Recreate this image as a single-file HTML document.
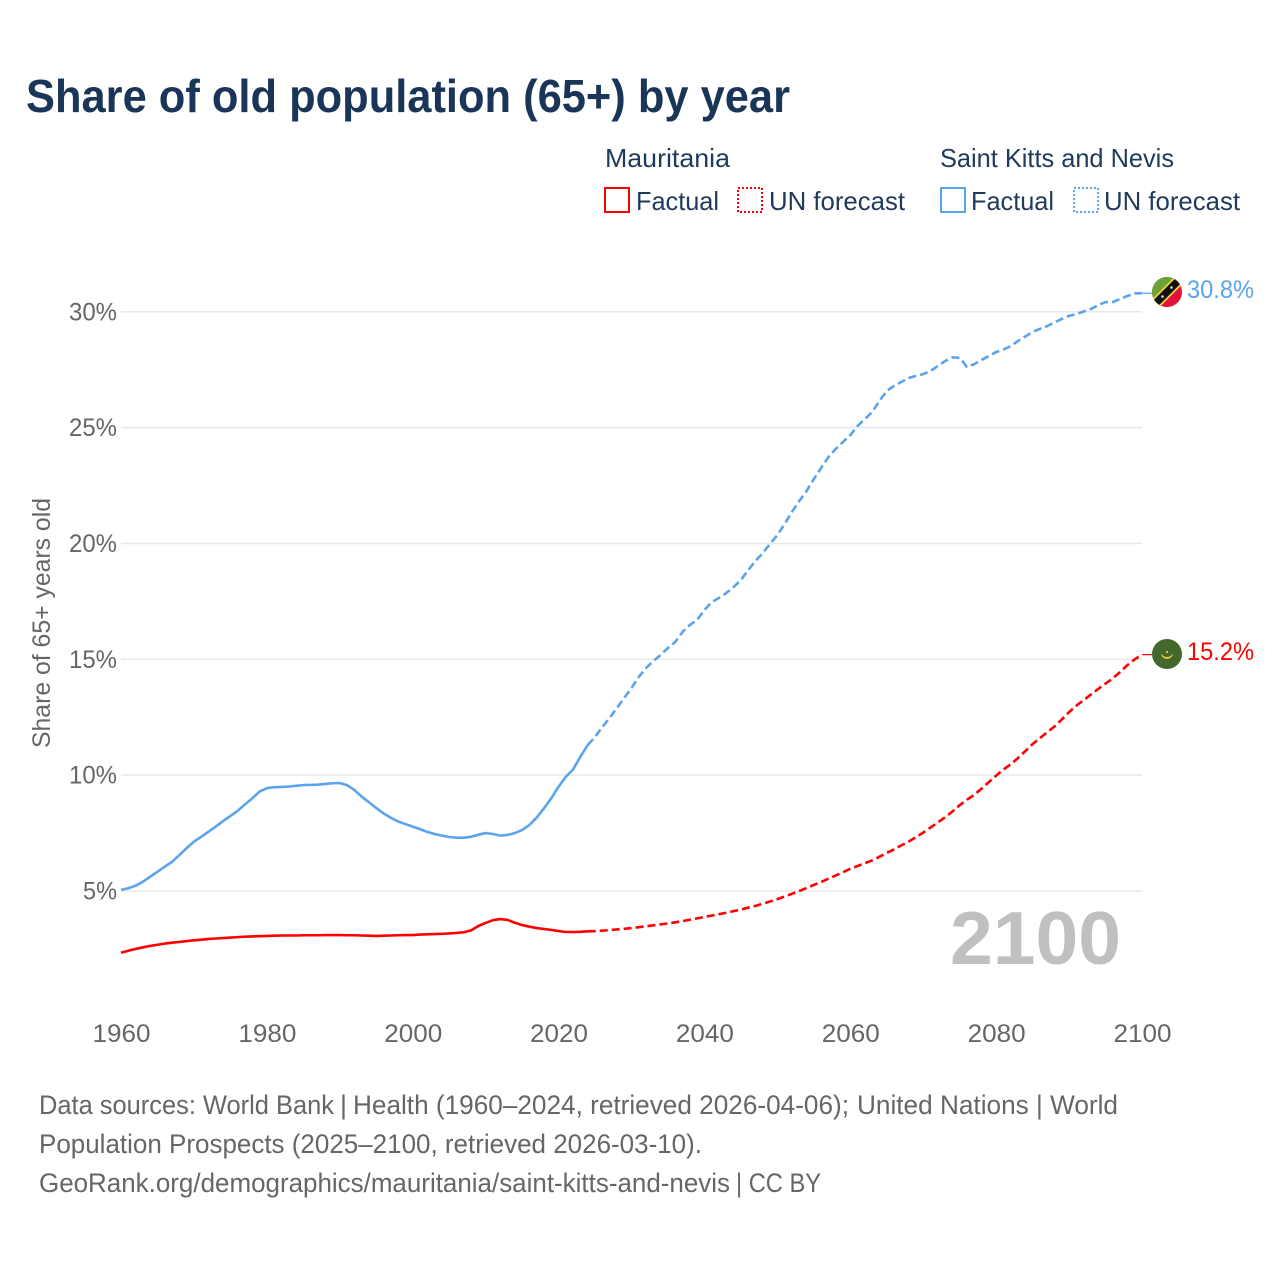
<!DOCTYPE html>
<html lang="en">
<head>
<meta charset="utf-8">
<title>Share of old population (65+) by year</title>
<style>
html,body{margin:0;padding:0;background:#fff}
svg{display:block}
text{font-family:"Liberation Sans",sans-serif}
</style>
</head>
<body>
<svg id="chart" xmlns="http://www.w3.org/2000/svg" width="1280" height="1280" viewBox="0 0 1280 1280">
  <rect x="0" y="0" width="1280" height="1280" fill="#fff"/>
  <text x="26" y="112" font-size="46" font-weight="700" fill="#1a3557" textLength="764" lengthAdjust="spacingAndGlyphs">Share of old population (65+) by year</text>

  <g font-size="26" fill="#1f3a5c">
    <text x="605" y="167" textLength="125" lengthAdjust="spacingAndGlyphs">Mauritania</text>
    <rect x="605" y="188" width="24" height="24" fill="none" stroke="#ff0000" stroke-width="2"/>
    <text x="636" y="210" textLength="83" lengthAdjust="spacingAndGlyphs">Factual</text>
    <rect x="738" y="188" width="24" height="24" fill="none" stroke="#ff0000" stroke-width="2" stroke-dasharray="2 2"/>
    <text x="769" y="210" textLength="136" lengthAdjust="spacingAndGlyphs">UN forecast</text>
    <text x="940" y="167" textLength="234" lengthAdjust="spacingAndGlyphs">Saint Kitts and Nevis</text>
    <rect x="941" y="188" width="24" height="24" fill="none" stroke="#5ba4ec" stroke-width="2"/>
    <text x="971" y="210" textLength="83" lengthAdjust="spacingAndGlyphs">Factual</text>
    <rect x="1074" y="188" width="24" height="24" fill="none" stroke="#5ba4ec" stroke-width="2" stroke-dasharray="2 2"/>
    <text x="1104" y="210" textLength="136" lengthAdjust="spacingAndGlyphs">UN forecast</text>
  </g>

  <g id="grid"></g>
  <g id="yticks"></g>
  <g id="xticks"></g>
  <text transform="translate(50,748) rotate(-90)" font-size="25" fill="#666" textLength="250" lengthAdjust="spacingAndGlyphs">Share of 65+ years old</text>
  <text x="950" y="964" font-size="75" font-weight="700" fill="#c0c0c0" textLength="171" lengthAdjust="spacingAndGlyphs">2100</text>
  <g id="series"></g>

  <g>
    <clipPath id="clip-kn"><circle cx="1167" cy="292" r="15"/></clipPath>
    <g clip-path="url(#clip-kn)">
      <rect x="1150" y="275" width="34" height="34" fill="#e4103c"/>
      <polygon points="1150,275 1184,275 1150,309" fill="#6ca43a"/>
      <line x1="1152" y1="307" x2="1182" y2="277" stroke="#f5d33c" stroke-width="11"/>
      <line x1="1152" y1="307" x2="1182" y2="277" stroke="#111" stroke-width="7.5"/>
      <circle cx="1162.5" cy="296.5" r="1.3" fill="#ddd"/>
      <circle cx="1171.5" cy="287.5" r="1.3" fill="#ddd"/>
    </g>
  </g>
  <g>
    <circle cx="1167" cy="654" r="15" fill="#44682b"/>
    <path d="M1161.5 654.5 A5.8 5.8 0 0 0 1172.5 654.5 A6.6 6.6 0 0 1 1161.5 654.5 Z" fill="#f0cf3c" stroke="#f0cf3c" stroke-width="0.8"/>
    <circle cx="1167" cy="652" r="1.1" fill="#f0cf3c"/>
  </g>
  <text id="label-kn" x="1187" y="298" font-size="25" fill="#5ba4ec" textLength="67" lengthAdjust="spacingAndGlyphs">30.8%</text>
  <text id="label-mr" x="1187" y="660" font-size="25" fill="#ff0000" textLength="67" lengthAdjust="spacingAndGlyphs">15.2%</text>

  <g font-size="27" fill="#666">
    <text x="39" y="1114" textLength="295" lengthAdjust="spacingAndGlyphs">Data sources: World Bank</text>
    <text x="340" y="1114">|</text>
    <text x="353" y="1114" textLength="496" lengthAdjust="spacingAndGlyphs">Health (1960–2024, retrieved 2026-04-06);</text>
    <text x="857" y="1114" textLength="261" lengthAdjust="spacingAndGlyphs">United Nations | World</text>
    <text x="39" y="1153" textLength="663" lengthAdjust="spacingAndGlyphs">Population Prospects (2025–2100, retrieved 2026-03-10).</text>
    <text x="39" y="1192" textLength="691" lengthAdjust="spacingAndGlyphs">GeoRank.org/demographics/mauritania/saint-kitts-and-nevis</text>
    <text x="736" y="1192" textLength="85" lengthAdjust="spacingAndGlyphs">| CC BY</text>
  </g>
</svg>

<script>
const startYear = 1960;
const lastFactualYear = 2024;
const xTickYears = [1960, 1980, 2000, 2020, 2040, 2060, 2080, 2100];
const yTickValues = [5, 10, 15, 20, 25, 30];
const stKittsValues = [
  5.05,5.12,5.23,5.40,5.62,5.83,6.05,6.26,6.55,6.85,
  7.13,7.34,7.56,7.78,8.02,8.24,8.46,8.74,9.00,9.29,
  9.44,9.48,9.49,9.51,9.54,9.57,9.58,9.59,9.62,9.65,
  9.66,9.57,9.36,9.07,8.83,8.58,8.35,8.16,8.00,7.89,
  7.78,7.67,7.55,7.46,7.39,7.33,7.30,7.30,7.34,7.43,
  7.50,7.46,7.39,7.42,7.50,7.63,7.85,8.17,8.57,9.00,
  9.50,9.93,10.25,10.80,11.30,
  11.65,12.08,12.47,12.90,13.33,13.76,14.24,14.62,14.93,15.19,
  15.49,15.75,16.18,16.48,16.70,17.13,17.47,17.65,17.86,18.12,
  18.42,18.85,19.24,19.59,19.98,20.36,20.84,21.36,21.83,22.26,
  22.78,23.26,23.73,24.08,24.38,24.68,25.07,25.37,25.67,26.15,
  26.58,26.80,26.97,27.14,27.23,27.31,27.44,27.66,27.87,28.03,
  28.01,27.62,27.74,27.92,28.09,28.26,28.37,28.52,28.74,28.93,
  29.13,29.26,29.38,29.54,29.69,29.82,29.90,30.01,30.12,30.29,
  30.42,30.42,30.55,30.68,30.79,30.80
];
const mauritaniaValues = [
  2.34,2.42,2.50,2.57,2.63,2.68,2.73,2.77,2.80,2.84,
  2.87,2.90,2.93,2.95,2.97,2.99,3.01,3.03,3.04,3.05,
  3.06,3.07,3.08,3.08,3.08,3.09,3.09,3.09,3.10,3.10,
  3.10,3.09,3.09,3.08,3.07,3.06,3.07,3.08,3.09,3.10,
  3.10,3.12,3.13,3.14,3.15,3.17,3.19,3.22,3.30,3.49,
  3.62,3.74,3.79,3.75,3.63,3.53,3.46,3.40,3.36,3.32,
  3.27,3.23,3.23,3.24,3.26,
  3.27,3.29,3.31,3.34,3.37,3.40,3.44,3.48,3.52,3.56,
  3.60,3.65,3.70,3.76,3.82,3.88,3.94,4.00,4.06,4.13,
  4.20,4.28,4.36,4.45,4.55,4.65,4.76,4.88,5.00,5.13,
  5.26,5.39,5.53,5.67,5.81,5.96,6.08,6.20,6.32,6.48,
  6.64,6.80,6.97,7.13,7.32,7.52,7.74,7.96,8.18,8.43,
  8.70,8.94,9.15,9.42,9.70,9.98,10.24,10.47,10.74,11.04,
  11.34,11.60,11.85,12.10,12.40,12.72,13.00,13.24,13.48,13.72,
  13.95,14.18,14.45,14.75,15.00,15.20
];

const NS = 'http://www.w3.org/2000/svg';
function xScale(year) { return 121 + (year - 1960) * (1142 - 121) / 140; }
function yScale(value) { return 891 - (value - 5) * 23.17; }
function make(tag, attrs, parent) {
  const el = document.createElementNS(NS, tag);
  for (const k in attrs) el.setAttribute(k, attrs[k]);
  parent.appendChild(el);
  return el;
}
function pathFor(values, fromYear, toYear) {
  let d = '';
  for (let yr = fromYear; yr <= toYear; yr++) {
    const v = values[yr - startYear];
    if (v === undefined) continue;
    d += (d ? 'L' : 'M') + xScale(yr).toFixed(2) + ' ' + yScale(v).toFixed(2);
  }
  return d;
}

const gridG = document.getElementById('grid');
const yG = document.getElementById('yticks');
const xG = document.getElementById('xticks');
const seriesG = document.getElementById('series');

yTickValues.forEach(function (v) {
  const line = make('line', {x1: xScale(1960), x2: xScale(2100), y1: yScale(v), y2: yScale(v), stroke: '#e8e8e8', 'stroke-width': 1.5}, gridG);
  
  
  const t = make('text', {x: 117, y: yScale(v) + 8.5, 'text-anchor': 'end', 'font-size': 25, fill: '#666'}, yG);
  
  
  t.setAttribute('textLength', v < 10 ? 34 : 48);
  t.setAttribute('lengthAdjust', 'spacingAndGlyphs');
  t.textContent = v + '%';
});

xTickYears.forEach(function (yr) {
  const t = make('text', {x: xScale(yr) + 0.5, y: 1042, 'text-anchor': 'middle', 'font-size': 25, fill: '#666'}, xG);
  
  
  t.setAttribute('textLength', 58);
  t.setAttribute('lengthAdjust', 'spacingAndGlyphs');
  t.textContent = yr;
});

function drawSeries(key, values, color) {
  const lastYear = startYear + values.length - 1;
  const solid = make('path', {d: pathFor(values, startYear, lastFactualYear), fill: 'none', stroke: color, 'stroke-width': 2.6, 'stroke-linejoin': 'round'}, seriesG);
  
  
  const dashed = make('path', {d: pathFor(values, lastFactualYear, lastYear), fill: 'none', stroke: color, 'stroke-width': 2.6, 'stroke-dasharray': '8 4', 'stroke-linejoin': 'round'}, seriesG);
  
  
  const endY = yScale(values[values.length - 1]);
  const lead = make('line', {x1: xScale(lastYear), x2: 1152, y1: endY, y2: endY, stroke: color, 'stroke-width': 1.2}, seriesG);
  
  
}
drawSeries('saint-kitts', stKittsValues, '#5ba4ec');
drawSeries('mauritania', mauritaniaValues, '#ff0000');
</script>
</body>
</html>
